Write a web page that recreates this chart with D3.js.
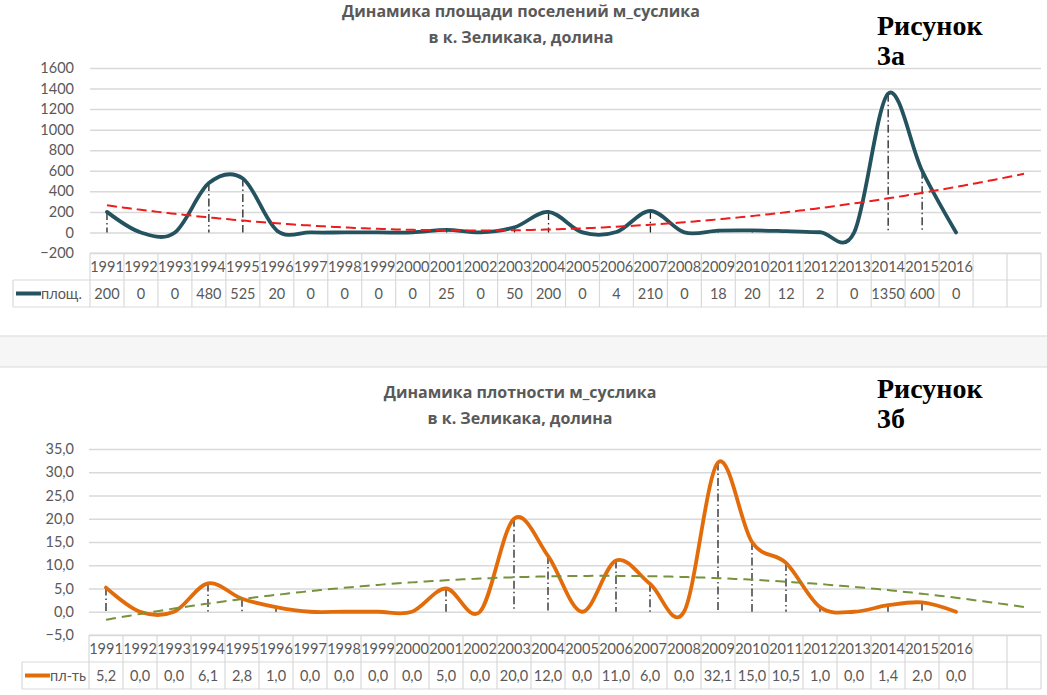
<!DOCTYPE html>
<html><head><meta charset="utf-8">
<script src="https://cdnjs.cloudflare.com/ajax/libs/d3/7.8.5/d3.min.js"></script>
<style>
html,body{margin:0;padding:0;background:#fff;}
svg{display:block;}
</style></head><body>
<svg id="chart" width="1047" height="695"></svg>
<script>
// ---------- DATA ----------
const years = ['1991','1992','1993','1994','1995','1996','1997','1998','1999','2000','2001','2002','2003','2004','2005','2006','2007','2008','2009','2010','2011','2012','2013','2014','2015','2016'];
const emptyCategories = ['', ''];
const categories = years.concat(emptyCategories);

const areaValues = [200,0,0,480,525,20,0,0,0,0,25,0,50,200,0,4,210,0,18,20,12,2,0,1350,600,0];
const densityValues = [5.2,0.0,0.0,6.1,2.8,1.0,0.0,0.0,0.0,0.0,5.0,0.0,20.0,12.0,0.0,11.0,6.0,0.0,32.1,15.0,10.5,1.0,0.0,1.4,2.0,0.0];

const areaTicks = [-200,0,200,400,600,800,1000,1200,1400,1600];
const densityTicks = [-5,0,5,10,15,20,25,30,35];

const areaTitle = ['Динамика площади поселений м_суслика', 'в к. Зеликака, долина'];
const densityTitle = ['Динамика плотности м_суслика', 'в к. Зеликака, долина'];
const areaFigLabel = ['Рисунок', '3а'];
const densityFigLabel = ['Рисунок', '3б'];
const areaSeriesName = 'площ.';
const densitySeriesName = 'пл-ть';

// ---------- HELPERS ----------
const svg = d3.select('#chart');
const textColor = '#595959';
const gridColor = '#d9d9d9';
const numFont = 'Lato, "Open Sans", sans-serif';
const titleFont = '"Open Sans", "Noto Sans", sans-serif';
const serifFont = '"Liberation Serif", "DejaVu Serif", serif';
const commaFmt = v => d3.format('.1f')(v).replace('.', ',');

function polyfit2(vals) {
  const S = [0,0,0,0,0], T = [0,0,0];
  vals.forEach((yv, i) => {
    const xv = i + 1;
    for (let k = 0; k < 5; k++) S[k] += Math.pow(xv, k);
    for (let k = 0; k < 3; k++) T[k] += yv * Math.pow(xv, k);
  });
  const M = [[S[0],S[1],S[2],T[0]],[S[1],S[2],S[3],T[1]],[S[2],S[3],S[4],T[2]]];
  for (let c = 0; c < 3; c++) {
    for (let r = c + 1; r < 3; r++) {
      const f = M[r][c] / M[c][c];
      for (let k = c; k < 4; k++) M[r][k] -= f * M[c][k];
    }
  }
  const sol = [0,0,0];
  for (let r = 2; r >= 0; r--) {
    let s = M[r][3];
    for (let k = r + 1; k < 3; k++) s -= M[r][k] * sol[k];
    sol[r] = s / M[r][r];
  }
  return t => sol[0] + sol[1] * t + sol[2] * t * t;
}

// separator band between the two charts
svg.append('rect').attr('x', -1).attr('y', 336).attr('width', 1049).attr('height', 31)
  .attr('fill', '#f6f6f6').attr('stroke', '#dadada').attr('stroke-width', 1);

function drawChart(cfg) {
  const g = svg.append('g');
  const x = d3.scaleBand().domain(d3.range(categories.length)).range([cfg.x0, cfg.x1]).padding(0);
  const bw = x.bandwidth();
  const cx = i => x(i) + bw / 2;
  const y = d3.scaleLinear().domain([cfg.ticks[0], cfg.ticks[cfg.ticks.length - 1]]).range([cfg.yBottom, cfg.yTop]);

  // gridlines
  g.append('g').attr('transform', `translate(${cfg.x0},0)`)
    .call(d3.axisLeft(y).tickValues(cfg.ticks).tickSize(-(cfg.x1 - cfg.x0)).tickFormat(''))
    .call(a => a.select('.domain').remove())
    .call(a => a.selectAll('line').attr('stroke', gridColor).attr('stroke-width', 1.5));

  // tick labels
  g.append('g').attr('transform', `translate(${cfg.labelX},0)`)
    .call(d3.axisLeft(y).tickValues(cfg.ticks).tickSize(0).tickPadding(0).tickFormat(cfg.tickFormat))
    .call(a => a.select('.domain').remove())
    .call(a => a.selectAll('text').attr('fill', textColor).style('font-family', numFont).style('font-size', '14.5px'));

  // data table
  const rowH = cfg.rowH;
  const t0 = cfg.yBottom;
  const tbl = g.append('g').attr('stroke', gridColor).attr('stroke-width', 1.2);
  tbl.append('line').attr('x1', cfg.x0).attr('x2', cfg.x1).attr('y1', t0).attr('y2', t0);
  tbl.append('line').attr('x1', cfg.legendX).attr('x2', cfg.x1).attr('y1', t0 + rowH).attr('y2', t0 + rowH);
  tbl.append('line').attr('x1', cfg.legendX).attr('x2', cfg.x1).attr('y1', t0 + 2 * rowH).attr('y2', t0 + 2 * rowH);
  tbl.append('line').attr('x1', cfg.legendX).attr('x2', cfg.legendX).attr('y1', t0 + rowH).attr('y2', t0 + 2 * rowH);
  tbl.selectAll('line.v').data(d3.range(categories.length + 1)).join('line').attr('class', 'v')
    .attr('x1', i => cfg.x0 + i * bw).attr('x2', i => cfg.x0 + i * bw)
    .attr('y1', t0).attr('y2', t0 + 2 * rowH);

  g.selectAll('text.yr').data(categories).join('text').attr('class', 'yr')
    .attr('x', (d, i) => cx(i)).attr('y', t0 + rowH / 2).attr('dy', '0.36em')
    .attr('text-anchor', 'middle').attr('fill', textColor)
    .style('font-family', numFont).style('font-size', '14.5px').text(d => d);

  g.selectAll('text.val').data(cfg.values).join('text').attr('class', 'val')
    .attr('x', (d, i) => cx(i)).attr('y', t0 + rowH * 1.5).attr('dy', '0.36em')
    .attr('text-anchor', 'middle').attr('fill', textColor)
    .style('font-family', numFont).style('font-size', '14.5px').text(cfg.labelFormat);

  // legend inside table
  g.append('line').attr('x1', cfg.legendX + 3).attr('x2', cfg.legendX + 28)
    .attr('y1', t0 + rowH * 1.5).attr('y2', t0 + rowH * 1.5)
    .attr('stroke', cfg.color).attr('stroke-width', 4);
  g.append('text').attr('x', cfg.legendX + 28).attr('y', t0 + rowH * 1.5).attr('dy', '0.36em')
    .attr('fill', textColor).style('font-family', numFont).style('font-size', '14.5px').text(cfg.seriesName);

  // drop lines
  g.selectAll('line.drop').data(cfg.values).join('line').attr('class', 'drop')
    .attr('x1', (d, i) => cx(i)).attr('x2', (d, i) => cx(i))
    .attr('y1', d => y(d)).attr('y2', y(0))
    .attr('stroke', '#222').attr('stroke-width', 1.3).attr('stroke-dasharray', '8,3,1.5,3');

  // series (smoothed)
  g.append('path').datum(cfg.values)
    .attr('d', d3.line().x((d, i) => cx(i)).y(d => y(d)).curve(d3.curveCatmullRom.alpha(0)))
    .attr('fill', 'none').attr('stroke', cfg.color).attr('stroke-width', 3.8)
    .attr('stroke-linecap', 'round').attr('stroke-linejoin', 'round');

  // polynomial (2nd order) trendline, forecast over the empty categories
  const f = polyfit2(cfg.values);
  const ts = d3.range(1, categories.length + 0.001, 0.1);
  g.append('path').datum(ts)
    .attr('d', d3.line().x(t => cx(0) + (t - 1) * bw).y(t => y(f(t))))
    .attr('fill', 'none').attr('stroke', cfg.trendColor).attr('stroke-width', 2)
    .attr('stroke-dasharray', cfg.trendDash);

  // title
  cfg.title.forEach((line, k) => {
    g.append('text').attr('x', cfg.titleX).attr('y', cfg.titleY + k * cfg.titleGap)
      .attr('text-anchor', 'middle').attr('fill', textColor)
      .style('font-family', titleFont).style('font-weight', 'bold').style('font-size', '16px').text(line);
  });

  // figure label
  cfg.figLabel.forEach((line, k) => {
    g.append('text').attr('x', cfg.figX).attr('y', cfg.figY + k * 30)
      .attr('fill', '#000').style('font-family', serifFont).style('font-weight', 'bold')
      .style('font-size', '28px').text(line);
  });
}

drawChart({
  values: areaValues, ticks: areaTicks, tickFormat: d3.format('d'), labelFormat: d => d,
  x0: 90, x1: 1041, yTop: 68, yBottom: 253, rowH: 27, labelX: 74, legendX: 13,
  color: '#24535f', trendColor: '#ee1c1c', trendDash: '10,5',
  title: areaTitle, titleX: 521, titleY: 17, titleGap: 26, seriesName: areaSeriesName,
  figLabel: areaFigLabel, figX: 877, figY: 35
});

drawChart({
  values: densityValues, ticks: densityTicks, tickFormat: commaFmt, labelFormat: commaFmt,
  x0: 89, x1: 1041, yTop: 449, yBottom: 635, rowH: 27, labelX: 74, legendX: 22,
  color: '#e36c0a', trendColor: '#76923c', trendDash: '10,6',
  title: densityTitle, titleX: 520, titleY: 398, titleGap: 26, seriesName: densitySeriesName,
  figLabel: densityFigLabel, figX: 877, figY: 398
});
</script>
</body></html>
